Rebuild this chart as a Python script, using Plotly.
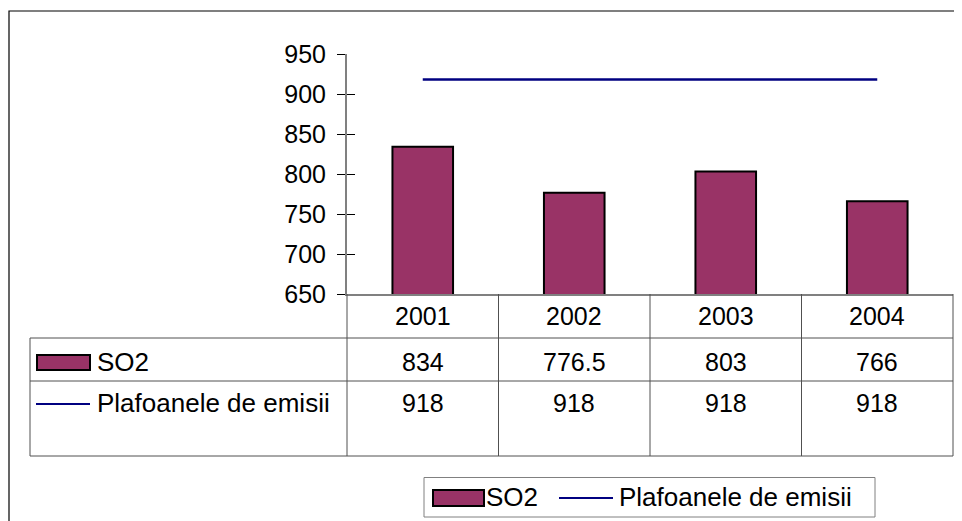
import plotly.graph_objects as go

years = ["2001", "2002", "2003", "2004"]
so2 = [834, 776.5, 803, 766]
plafon = [918, 918, 918, 918]
so2_labels = ["834", "776.5", "803", "766"]
plafon_labels = ["918", "918", "918", "918"]
series_names = ["SO2", "Plafoanele de emisii"]
y_ticks = [650, 700, 750, 800, 850, 900, 950]

OFF = 8  # page body margin
W, H = 962 - OFF, 521 - OFF
# plot area in screen pixels
L, R, T, B = 347, 953, 54, 294
FONT = "Liberation Sans, Arial, sans-serif"
FS = 25
FS_TXT = 26
BAR_COLOR = "#993366"
LINE_COLOR = "#000080"
GRID = "#808080"
TBL = "#505050"


def px(x):
    return (x - L) / (R - L)


def py(y):
    return (B - y) / (B - T)


fig = go.Figure()
fig.add_trace(go.Bar(x=years, y=so2, name=series_names[0], width=0.4,
                     marker=dict(color=BAR_COLOR, line=dict(color="black", width=2)),
                     showlegend=False))
fig.add_trace(go.Scatter(x=years, y=plafon, name=series_names[1], mode="lines",
                         line=dict(color=LINE_COLOR, width=2.5), yaxis="y2",
                         showlegend=False))

shapes = []
# outer frame
shapes.append(dict(type="rect", xref="paper", yref="paper", x0=px(9), x1=px(975),
                   y0=py(11), y1=py(535), line=dict(color="black", width=1.2)))
# table horizontal lines
for yy in [338, 381, 456]:
    shapes.append(dict(type="line", xref="paper", yref="paper", x0=px(30), x1=px(R),
                       y0=py(yy), y1=py(yy), line=dict(color=TBL, width=1)))
shapes.append(dict(type="line", xref="paper", yref="paper", x0=px(30), x1=px(30),
                   y0=py(338), y1=py(456), line=dict(color=TBL, width=1)))
n = len(years)
for i in range(n + 1):
    shapes.append(dict(type="line", xref="paper", yref="paper", x0=i / n, x1=i / n,
                       y0=0, y1=py(456), line=dict(color=TBL, width=1)))
# table row keys
shapes.append(dict(type="rect", xref="paper", yref="paper", x0=px(37), x1=px(90),
                   y0=py(355), y1=py(370), fillcolor=BAR_COLOR, line=dict(color="black", width=2)))
shapes.append(dict(type="line", xref="paper", yref="paper", x0=px(36), x1=px(90),
                   y0=py(404), y1=py(404), line=dict(color=LINE_COLOR, width=2)))
# bottom legend
shapes.append(dict(type="rect", xref="paper", yref="paper", x0=px(424), x1=px(875),
                   y0=py(477.5), y1=py(517), line=dict(color=GRID, width=1)))
shapes.append(dict(type="rect", xref="paper", yref="paper", x0=px(433), x1=px(484),
                   y0=py(490), y1=py(506), fillcolor=BAR_COLOR, line=dict(color="black", width=2)))
shapes.append(dict(type="line", xref="paper", yref="paper", x0=px(559), x1=px(613),
                   y0=py(498), y1=py(498), line=dict(color=LINE_COLOR, width=2)))

ann = []
tf = dict(family=FONT, size=FS, color="black")
tf2 = dict(family=FONT, size=FS_TXT, color="black")
for i, yr in enumerate(years):
    ann.append(dict(x=i, y=py(316), xref="x", yref="paper", text=yr, showarrow=False,
                    font=tf, xanchor="center", yanchor="middle"))
    ann.append(dict(x=i, y=py(361.5), xref="x", yref="paper", text=so2_labels[i],
                    showarrow=False, font=tf, xanchor="center", yanchor="middle"))
    ann.append(dict(x=i, y=py(403), xref="x", yref="paper", text=plafon_labels[i],
                    showarrow=False, font=tf, xanchor="center", yanchor="middle"))
ann.append(dict(x=px(95), y=py(362), xref="paper", yref="paper", text=series_names[0],
                showarrow=False, font=tf2, xanchor="left", yanchor="middle"))
ann.append(dict(x=px(95), y=py(403), xref="paper", yref="paper", text=series_names[1],
                showarrow=False, font=tf2, xanchor="left", yanchor="middle"))
ann.append(dict(x=px(484), y=py(497), xref="paper", yref="paper", text=series_names[0],
                showarrow=False, font=tf2, xanchor="left", yanchor="middle"))
ann.append(dict(x=px(617), y=py(497), xref="paper", yref="paper", text=series_names[1],
                showarrow=False, font=tf2, xanchor="left", yanchor="middle"))

yax = dict(range=[650, 950], tickvals=y_ticks, showgrid=False, zeroline=False,
           showline=True, linecolor=GRID, linewidth=2)
fig.update_layout(
    width=W, height=H,
    margin=dict(l=L - OFF, r=W - (R - OFF), t=T - OFF, b=H - (B - OFF), pad=0),
    paper_bgcolor="white", plot_bgcolor="white",
    font=dict(family=FONT, size=FS, color="black"),
    bargap=0.6,
    xaxis=dict(type="category", range=[-0.5, 3.5], showticklabels=False, ticks="",
               showgrid=False, zeroline=False, showline=True, linecolor=GRID, linewidth=1.5),
    yaxis=dict(**yax, ticks="outside", ticklen=8, tickcolor="black", tickwidth=1,
               ticklabelstandoff=6, tickfont=tf),
    yaxis2=dict(**yax, overlaying="y", side="left", ticks="inside", ticklen=8,
                tickcolor="black", tickwidth=1, showticklabels=False),
    shapes=shapes, annotations=ann, showlegend=False,
)
fig.write_html("out.html")
